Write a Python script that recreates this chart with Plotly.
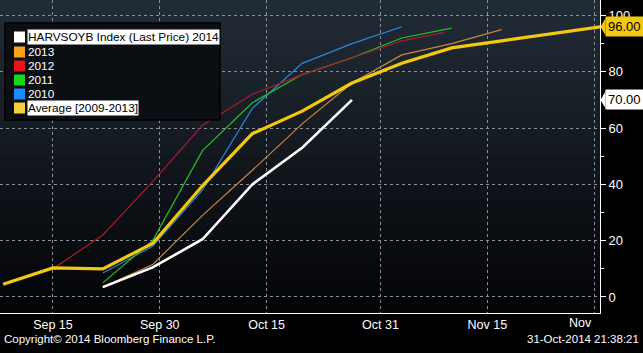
import plotly.graph_objects as go

# ---- data (weekly harvest progress, % complete) ----
dates_all = ["2014-09-08", "2014-09-15", "2014-09-22", "2014-09-29", "2014-10-06",
             "2014-10-13", "2014-10-20", "2014-10-27", "2014-11-03", "2014-11-10",
             "2014-11-17", "2014-11-24", "2014-12-01"]

d2014 = ["2014-09-22", "2014-09-29", "2014-10-06", "2014-10-13", "2014-10-20", "2014-10-27"]
v2014 = [3.5, 10.5, 20.5, 40, 53, 70]

d2013 = ["2014-09-22", "2014-09-29", "2014-10-06", "2014-10-13", "2014-10-20", "2014-10-27",
         "2014-11-03", "2014-11-10", "2014-11-17"]
v2013 = [3.5, 11.5, 29, 45, 61.5, 76, 86, 90, 95]

d2012 = ["2014-09-15", "2014-09-22", "2014-09-29", "2014-10-06", "2014-10-13", "2014-10-20",
         "2014-10-27", "2014-11-03", "2014-11-09"]
v2012 = [10, 22, 41, 61, 72, 79, 85, 91, 94]

d2011 = ["2014-09-22", "2014-09-29", "2014-10-06", "2014-10-13", "2014-10-20", "2014-10-27",
         "2014-11-03", "2014-11-10"]
v2011 = [5, 20, 52, 69, 79, 85, 92, 95.5]

d2010 = ["2014-09-22", "2014-09-29", "2014-10-06", "2014-10-13", "2014-10-20", "2014-10-27",
         "2014-11-03"]
v2010 = [8.5, 18, 38, 67, 83, 90, 96]

vavg = [4.5, 10.3, 10, 19, 39.5, 58, 66, 76, 83, 88.5, 91, 93.5, 96]

legend_names = ["HARVSOYB Index (Last Price) 2014", "2013", "2012", "2011", "2010",
                "Average [2009-2013]"]

x_tickvals = ["2014-09-15", "2014-09-30", "2014-10-15", "2014-10-31", "2014-11-15", "2014-11-30"]
x_ticktext = ["Sep 15", "Sep 30", "Oct 15", "Oct 31", "Nov 15", ""]
y_tickvals = [0, 20, 40, 60, 80, 100]

FONT = "Liberation Sans"
W, H = 643, 353
L, R, T, B = 0, 43, 0, 40
PW, PH = W - L - R, H - T - B


def px(xp):
    return xp / PW


def py(yp):
    return (PH - yp) / PH


fig = go.Figure()

# series
fig.add_trace(go.Scatter(x=d2010, y=v2010, mode="lines", line=dict(color="#2a86e0", width=1.2)))
fig.add_trace(go.Scatter(x=d2011, y=v2011, mode="lines", line=dict(color="#25c02a", width=1.2)))
fig.add_trace(go.Scatter(x=d2012, y=v2012, mode="lines", line=dict(color="#a81c2c", width=1.2)))
fig.add_trace(go.Scatter(x=d2013, y=v2013, mode="lines", line=dict(color="#c8873e", width=1.2)))
fig.add_trace(go.Scatter(x=dates_all, y=vavg, mode="lines", line=dict(color="#f2c811", width=3.2)))
fig.add_trace(go.Scatter(x=d2014, y=v2014, mode="lines", line=dict(color="#ffffff", width=2.6)))

shapes = []
# gradient background of plot area
n = 40
top = (34, 44, 55)
bot = (3, 4, 6)
for i in range(n):
    t = i / (n - 1)
    c = tuple(int(round(top[k] + (bot[k] - top[k]) * t)) for k in range(3))
    shapes.append(dict(type="rect", xref="paper", yref="paper", x0=0, x1=1,
                       y0=1 - (i + 1) / n, y1=1 - i / n + 0.002,
                       fillcolor="rgb(%d,%d,%d)" % c, line=dict(width=0), layer="below"))

# legend box
shapes.append(dict(type="rect", xref="paper", yref="paper", x0=px(5), x1=px(220),
                   y0=py(120), y1=py(23), fillcolor="#0b0f14",
                   line=dict(color="#000000", width=1.5), layer="above"))
sq_colors = ["#ffffff", "#f7a21c", "#e8141c", "#1cd41c", "#1a8cff", "#f5cf40"]
rows = [37, 52, 66, 80, 94, 108]
annotations = []
for name, col, ry in zip(legend_names, sq_colors, rows):
    shapes.append(dict(type="rect", xref="paper", yref="paper", x0=px(14), x1=px(25),
                       y0=py(ry + 5.5), y1=py(ry - 5.5), fillcolor=col,
                       line=dict(width=0), layer="above"))
    hl = name in (legend_names[0], legend_names[-1])
    annotations.append(dict(xref="paper", yref="paper", x=px(27), y=py(ry),
                            xanchor="left", yanchor="middle", showarrow=False,
                            text=name, borderpad=0,
                            bgcolor="#ffffff" if hl else "rgba(0,0,0,0)",
                            font=dict(family=FONT, size=11.8,
                                      color="#000000" if hl else "#ffffff")))

# right-side value callouts with left pointers
for val, bg in ((vavg[-1], "#f2c811"), (v2014[-1], "#ffffff")):
    annotations.append(dict(xref="paper", yref="y", x=px(605), y=val, xanchor="left",
                            yanchor="middle", showarrow=False, text="%.2f" % val,
                            bgcolor=bg, borderpad=2,
                            font=dict(family=FONT, size=13, color="#000000")))
    shapes.append(dict(type="path", xref="paper", yref="y",
                       path="M %f,%f L %f,%f L %f,%f Z" % (px(600.5), val, px(605.5), val + 3.0,
                                                           px(605.5), val - 3.0),
                       fillcolor=bg, line=dict(width=0), layer="above"))

# "Nov" partial label
annotations.append(dict(xref="x", yref="paper", x="2014-11-30", y=py(323), xanchor="right",
                        yanchor="middle", xshift=0, showarrow=False, text="Nov",
                        font=dict(family=FONT, size=12.5, color="#ffffff")))

# footer
annotations.append(dict(xref="paper", yref="paper", x=px(2), y=py(339), xanchor="left",
                        yanchor="middle", showarrow=False,
                        text="Copyright\u00a9 2014 Bloomberg Finance L.P.",
                        font=dict(family=FONT, size=11.5, color="#ffffff")))
annotations.append(dict(xref="paper", yref="paper", x=px(641), y=py(339), xanchor="right",
                        yanchor="middle", showarrow=False, text="31-Oct-2014 21:38:21",
                        font=dict(family=FONT, size=11.5, color="#ffffff")))

fig.update_layout(
    width=W, height=H,
    margin=dict(l=L, r=R, t=T, b=B, pad=0),
    paper_bgcolor="#000000",
    plot_bgcolor="#101820",
    showlegend=False,
    shapes=shapes,
    annotations=annotations,
    xaxis=dict(type="date", range=["2014-09-07 13:26", "2014-11-30 20:00"],
               tickvals=x_tickvals, ticktext=x_ticktext,
               showgrid=True, gridcolor="#8a9098", griddash="dot", gridwidth=1,
               showline=True, linecolor="#ffffff", linewidth=1,
               ticks="", tickfont=dict(family=FONT, size=12.5, color="#ffffff"),
               zeroline=False),
    yaxis=dict(side="right", range=[-5.7, 105.5], tickvals=y_tickvals,
               showgrid=True, gridcolor="#8a9098", griddash="dot", gridwidth=1,
               showline=True, linecolor="#ffffff", linewidth=1,
               ticks="outside", ticklen=5, tickcolor="#ffffff", tickwidth=1,
               minor=dict(tickvals=[10, 30, 50, 70, 90], ticks="outside", ticklen=3,
                          tickcolor="#ffffff", showgrid=False),
               tickfont=dict(family=FONT, size=13, color="#ffffff"),
               zeroline=False),
)

fig.write_html("out.html")
